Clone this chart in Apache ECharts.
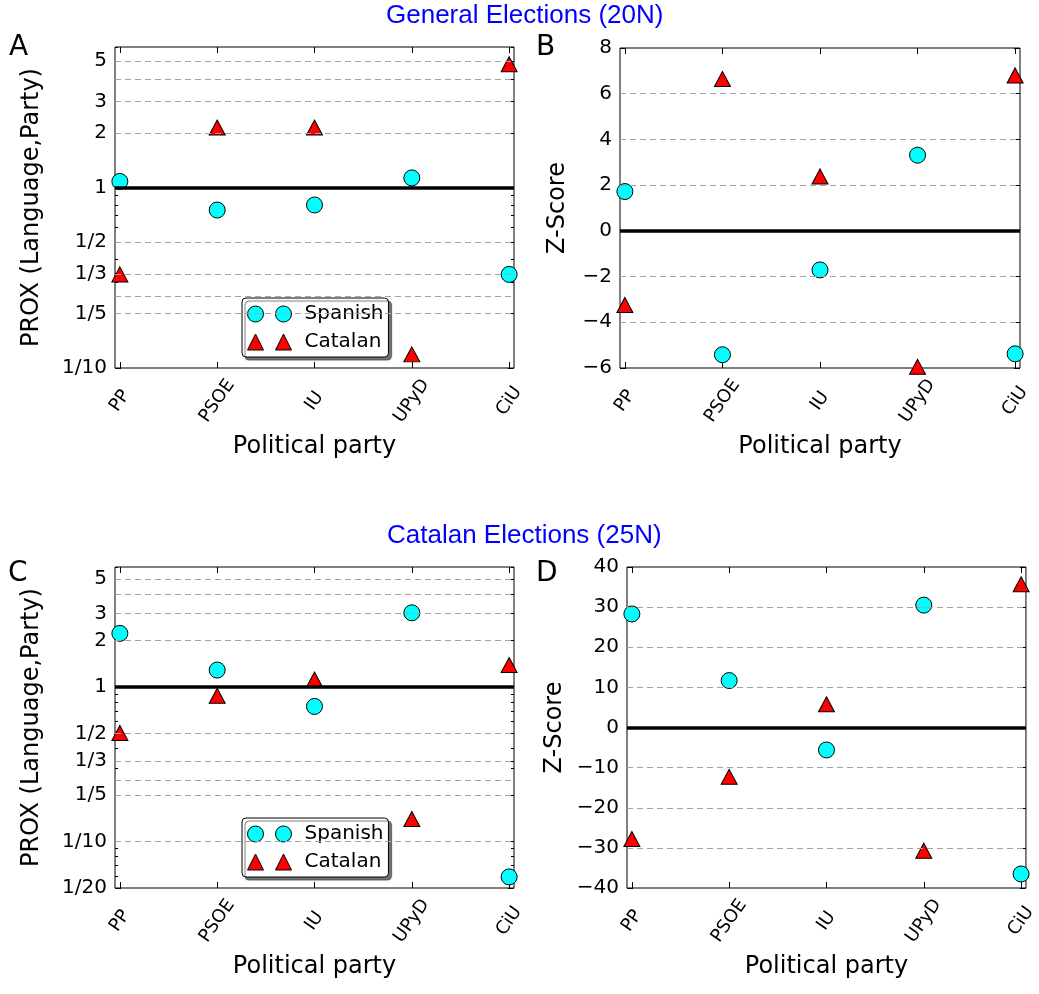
<!DOCTYPE html>
<html>
<head>
<meta charset="utf-8">
<script src="https://cdn.jsdelivr.net/npm/echarts@6/dist/echarts.min.js"></script>
<style>
  html, body { margin: 0; padding: 0; background: #fff; }
  #main { width: 1039px; height: 994px; }
</style>
</head>
<body>
<div id="main"></div>
<script>
// categories
var parties = ["PP", "PSOE", "IU", "UPyD", "CiU"];

// General elections (20N)
var genProxSpanish = [1.08, 0.75, 0.80, 1.13, 0.33];
var genProxCatalan = [0.33, 2.15, 2.15, 0.119, 4.82];
var genZSpanish = [1.72, -5.42, -1.71, 3.31, -5.38];
var genZCatalan = [-3.24, 6.64, 2.38, -5.95, 6.80];

// Catalan elections (25N)
var catProxSpanish = [2.23, 1.29, 0.75, 3.03, 0.059];
var catProxCatalan = [0.505, 0.88, 1.12, 0.14, 1.39];
var catZSpanish = [28.3, 11.7, -5.6, 30.5, -36.5];
var catZCatalan = [-27.8, -12.3, 5.8, -30.7, 35.7];

// tick labels and dashed grid lines
var proxTicksGeneral = [5, 3, 2, 1, 1 / 2, 1 / 3, 1 / 5, 1 / 10];
var proxTicksCatalan = [5, 3, 2, 1, 1 / 2, 1 / 3, 1 / 5, 1 / 10, 1 / 20];
var proxMinorTicks = [0.06, 0.07, 0.08, 0.09, 0.2, 0.3, 0.4, 0.5, 0.6, 0.7, 0.8, 0.9, 2, 3, 4, 5, 6];
var proxLinesGeneral = [5, 4, 3, 2, 1 / 2, 1 / 3, 1 / 4, 1 / 5];
var proxLinesCatalan = [5, 4, 3, 2, 1 / 2, 1 / 3, 1 / 4, 1 / 5, 1 / 10];
var zLinesGeneral = [6, 4, 2, -2, -4];
var zLinesCatalan = [30, 20, 10, -10, -20, -30];

var FONT = "DejaVu Sans";

function fracLabel(v) {
    if (v >= 1) return String(Math.round(v));
    return "1/" + Math.round(1 / v);
}
function minusLabel(v) {
    return v < 0 ? "\u2212" + Math.abs(v) : String(v);
}

var circlesIcon = "path://M0,8A8,8 0 1,0 16,8A8,8 0 1,0 0,8Z" +
    "M28,8A8,8 0 1,0 44,8A8,8 0 1,0 28,8Z";
var trianglesIcon = "path://M8,0L16,16L0,16ZM36,0L44,16L28,16Z";

var panels = [
    { grid: { left: 115, top: 47, width: 399, height: 321 }, log: true, min: 0.1, max: 6,
      ticks: proxTicksGeneral, lines: proxLinesGeneral, base: 1,
      spanish: genProxSpanish, catalan: genProxCatalan,
      yName: "PROX (Language,Party)", nameGap: 71 },
    { grid: { left: 620, top: 48, width: 400, height: 320 }, log: false, min: -6, max: 8, interval: 2,
      lines: zLinesGeneral, base: 0,
      spanish: genZSpanish, catalan: genZCatalan,
      yName: "Z-Score", nameGap: 50 },
    { grid: { left: 115, top: 567, width: 399, height: 321 }, log: true, min: 0.05, max: 6,
      ticks: proxTicksCatalan, lines: proxLinesCatalan, base: 1,
      spanish: catProxSpanish, catalan: catProxCatalan,
      yName: "PROX (Language,Party)", nameGap: 71 },
    { grid: { left: 627, top: 567, width: 400, height: 321 }, log: false, min: -40, max: 40, interval: 10,
      lines: zLinesCatalan, base: 0,
      spanish: catZSpanish, catalan: catZCatalan,
      yName: "Z-Score", nameGap: 60 }
];

var grids = [], xAxes = [], yAxes = [], series = [];
var partyIdx = parties.map(function (p, i) { return i; });
var tickStyle = { color: "#000", width: 1 };

panels.forEach(function (p, i) {
    grids.push({ left: p.grid.left, top: p.grid.top, width: p.grid.width, height: p.grid.height,
        show: true, borderColor: "#000", borderWidth: 1, backgroundColor: "#fff" });

    // bottom + top x axes
    var xi = xAxes.length;
    xAxes.push({
        gridIndex: i, type: "value", min: -0.05, max: 4.05,
        axisLine: { show: false, onZero: false }, splitLine: { show: false },
        axisTick: { inside: true, length: 6, customValues: partyIdx, lineStyle: tickStyle },
        axisLabel: { customValues: partyIdx, formatter: function (v) { return parties[Math.round(v)]; },
            rotate: 55, align: "center", verticalAlign: "middle", margin: 33,
            fontSize: 18, fontFamily: FONT, color: "#000" },
        name: "Political party", nameLocation: "middle", nameGap: 67,
        nameTextStyle: { fontSize: 24, fontFamily: FONT, color: "#000" }
    });
    xAxes.push({
        gridIndex: i, type: "value", min: -0.05, max: 4.05, position: "top",
        axisLine: { show: false, onZero: false }, splitLine: { show: false }, axisLabel: { show: false },
        axisTick: { inside: true, length: 6, customValues: partyIdx, lineStyle: tickStyle }
    });

    // left + right y axes
    var yi = yAxes.length;
    var left = {
        gridIndex: i, min: p.min, max: p.max,
        axisLine: { show: false, onZero: false }, splitLine: { show: false },
        axisTick: { inside: true, length: 6, lineStyle: tickStyle },
        axisLabel: { fontSize: 20, fontFamily: FONT, color: "#000", margin: 8 },
        name: p.yName, nameLocation: "middle", nameGap: p.nameGap,
        nameTextStyle: { fontSize: 24, fontFamily: FONT, color: "#000" }
    };
    var right = {
        gridIndex: i, min: p.min, max: p.max, position: "right",
        axisLine: { show: false, onZero: false }, splitLine: { show: false }, axisLabel: { show: false },
        axisTick: { inside: true, length: 6, lineStyle: tickStyle }
    };
    if (p.log) {
        left.type = right.type = "log";
        left.logBase = right.logBase = 10;
        left.axisTick.customValues = p.ticks;
        right.axisTick.customValues = p.ticks;
        left.axisLabel.customValues = p.ticks;
        left.axisLabel.formatter = fracLabel;
        yAxes.push(left, right);
        // short minor ticks on both sides
        ["left", "right"].forEach(function (pos) {
            yAxes.push({
                gridIndex: i, type: "log", logBase: 10, min: p.min, max: p.max, position: pos,
                axisLine: { show: false, onZero: false }, splitLine: { show: false }, axisLabel: { show: false },
                axisTick: { inside: true, length: 3, customValues: proxMinorTicks, lineStyle: tickStyle }
            });
        });
    } else {
        left.type = right.type = "value";
        left.interval = right.interval = p.interval;
        left.axisLabel.formatter = minusLabel;
        yAxes.push(left, right);
    }

    // reference lines (behind the markers)
    series.push({
        type: "scatter", name: "ref" + i, xAxisIndex: xi, yAxisIndex: yi, data: [], z: 1, silent: true,
        markLine: {
            silent: true, symbol: ["none", "none"], label: { show: false }, animation: false,
            lineStyle: { type: [6, 4], color: "#a3a3a3", width: 1 },
            data: p.lines.map(function (v) { return { yAxis: v }; }).concat([
                { yAxis: p.base, lineStyle: { type: "solid", color: "#000", width: 3.5 } }
            ])
        }
    });
    series.push({
        type: "scatter", name: "Spanish", xAxisIndex: xi, yAxisIndex: yi, z: 3,
        symbol: "circle", symbolSize: 16,
        itemStyle: { color: "#00ffff", borderColor: "#000", borderWidth: 1, opacity: 1 },
        data: p.spanish.map(function (v, k) { return [k, v]; })
    });
    series.push({
        type: "scatter", name: "Catalan", xAxisIndex: xi, yAxisIndex: yi, z: 3,
        symbol: "triangle", symbolSize: [16, 15],
        itemStyle: { color: "#ff0000", borderColor: "#000", borderWidth: 1, opacity: 1 },
        data: p.catalan.map(function (v, k) { return [k, v]; })
    });
});

function makeLegend(top) {
    return {
        orient: "vertical", left: 242, top: top,
        data: [{ name: "Spanish", icon: circlesIcon }, { name: "Catalan", icon: trianglesIcon }],
        itemWidth: 44, itemHeight: 16, itemGap: 8,
        padding: [6, 5, 5, 5],
        backgroundColor: "#fff", borderColor: "#000", borderWidth: 1, borderRadius: 4,
        shadowColor: "rgba(0,0,0,0.55)", shadowBlur: 1, shadowOffsetX: 3, shadowOffsetY: 3,
        itemStyle: { borderColor: "#000", borderWidth: 1 },
        textStyle: { fontSize: 20, fontFamily: FONT, color: "#000", padding: [0, 0, 0, 8] },
        selectedMode: false
    };
}

var titleStyle = { fontFamily: "Liberation Sans", fontSize: 26, fontWeight: "normal", color: "#0000ff" };
var letterStyle = { fontFamily: FONT, fontSize: 28, fontWeight: "normal", color: "#000" };

var myChart = echarts.init(document.getElementById("main"));
myChart.setOption({
    animation: false,
    backgroundColor: "#fff",
    title: [
        { text: "General Elections (20N)", left: 386, top: 3, padding: 0, textStyle: titleStyle },
        { text: "Catalan Elections (25N)", left: 387, top: 523, padding: 0, textStyle: titleStyle },
        { text: "A", left: 9, top: 34, padding: 0, textStyle: letterStyle },
        { text: "B", left: 536, top: 34, padding: 0, textStyle: letterStyle },
        { text: "C", left: 8, top: 560, padding: 0, textStyle: letterStyle },
        { text: "D", left: 536, top: 560, padding: 0, textStyle: letterStyle }
    ],
    legend: [makeLegend(298), makeLegend(818)],
    grid: grids,
    xAxis: xAxes,
    yAxis: yAxes,
    series: series
});
window.addEventListener("resize", function () { myChart.resize(); });
</script>
</body>
</html>
